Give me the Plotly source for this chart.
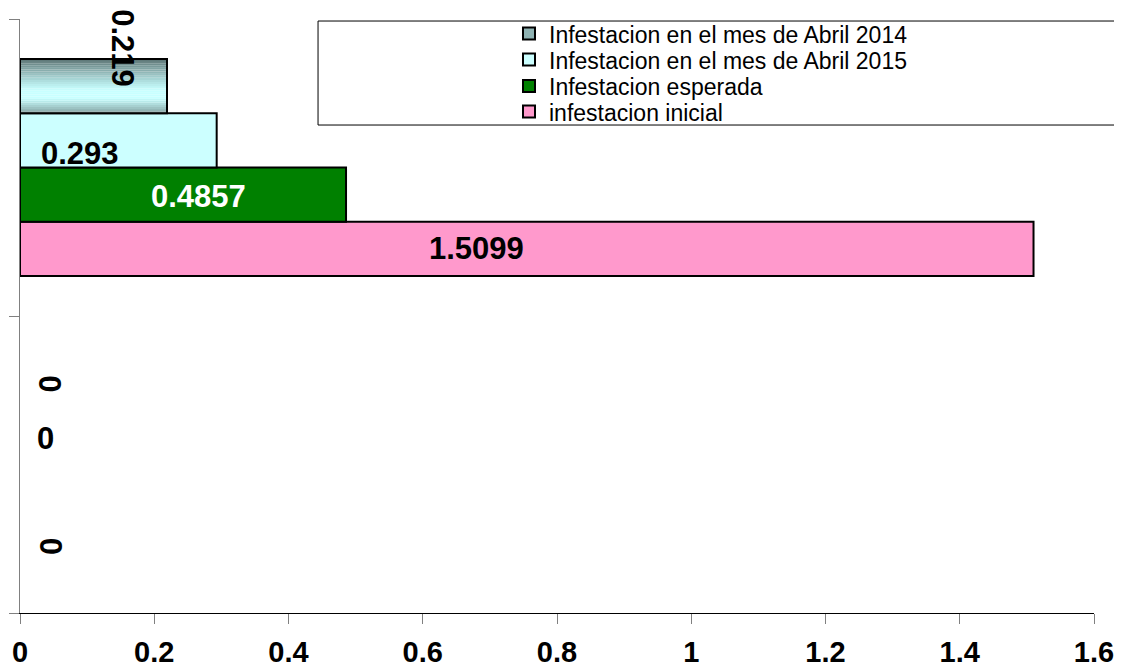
import plotly.graph_objects as go

# ---------------- data ----------------
categories = ["Grupo 1", "Grupo 2"]          # bottom, top
series_names = [
    "infestacion inicial",
    "Infestacion esperada",
    "Infestacion en el mes de Abril 2015",
    "Infestacion en el mes de Abril 2014",
]
inicial = [0, 1.5099]
esperada = [0, 0.4857]
abril_2015 = [0, 0.293]
abril_2014 = [0, 0.219]
x_ticks = [0, 0.2, 0.4, 0.6, 0.8, 1, 1.2, 1.4, 1.6]

series_values = [inicial, esperada, abril_2015, abril_2014]

# ---------------- styles ----------------
FONT = "Liberation Sans, Arial, sans-serif"
colors = ["#FF99CC", "#008000", "#CCFFFF", "#8fb3b3"]
GROUP = 0.73                      # fraction of category used by bars
BW = GROUP / 4                    # single bar width (category units)
offsets = [-GROUP / 2 + i * BW for i in range(4)]

# legend rows (paper y of each entry, by series)
legend_rows = [0.8440, 0.8871, 0.9316, 0.9754]
LEGEND_X = 0.4553

# per-label style: (angle, xshift px from x=0, yshift px, color) for [cat0, cat1]
label_style = [
    [(90, 30, 0, "black"), (0, 456, 0, "black")],
    [(0, 25, 0, "white"), (0, 178, -2, "white")],
    [(0, 25, -1, "black"), (0, 60, -13, "black")],
    [(90, 30, 0, "black"), (90, 103, 38, "black")],
]

fig = go.Figure()


def lw(vals):
    return [2 if v > 0 else 0 for v in vals]


# first three series: solid bars
for i in range(3):
    fig.add_trace(go.Bar(
        y=categories, x=series_values[i], orientation="h",
        name=series_names[i], showlegend=False,
        marker=dict(color=colors[i], line=dict(color="black", width=lw(series_values[i]))),
        width=BW, offset=offsets[i],
    ))


# 2014 series: vertical gradient built from strips
def lerp(c1, c2, t):
    a = [int(c1[k:k + 2], 16) for k in (1, 3, 5)]
    b = [int(c2[k:k + 2], 16) for k in (1, 3, 5)]
    return "#%02x%02x%02x" % tuple(round(a[j] + (b[j] - a[j]) * t) for j in range(3))


dark_bot, light, dark_top = "#7d9696", "#c8ffff", "#5c7474"
NSTRIP = 26
peak_lo, peak_hi = 0.28, 0.42
for s in range(NSTRIP):
    t = (s + 0.5) / NSTRIP
    if t < peak_lo:
        c = lerp(dark_bot, light, (t / peak_lo) ** 0.8)
    elif t <= peak_hi:
        c = light
    else:
        c = lerp(light, dark_top, ((t - peak_hi) / (1 - peak_hi)) ** 1.2)
    fig.add_trace(go.Bar(
        y=categories, x=abril_2014, orientation="h",
        name=series_names[3], showlegend=False,
        marker=dict(color=c, line=dict(width=0)),
        width=BW / NSTRIP * 1.04, offset=offsets[3] + s * BW / NSTRIP,
        hoverinfo="skip",
    ))
# outline for 2014 bar
fig.add_trace(go.Bar(
    y=categories, x=abril_2014, orientation="h", showlegend=False,
    marker=dict(color="rgba(0,0,0,0)", line=dict(color="black", width=lw(abril_2014))),
    width=BW, offset=offsets[3], hoverinfo="skip",
))

# legend entries (one legend per row so row spacing matches)
legend_layout = {}
for i in range(4):
    key = "legend" if i == 0 else "legend%d" % (i + 1)
    fig.add_trace(go.Bar(
        y=[None], x=[None], orientation="h", name=series_names[i],
        marker=dict(color=colors[i], line=dict(color="black", width=2)),
        showlegend=True, legend=key, hoverinfo="skip",
    ))
    legend_layout[key] = dict(
        x=LEGEND_X, y=legend_rows[i], xanchor="left", yanchor="middle",
        bgcolor="rgba(0,0,0,0)", borderwidth=0,
        font=dict(family=FONT, size=23, color="black"),
    )

# data labels
annotations = []
for i, vals in enumerate(series_values):
    for ci, v in enumerate(vals):
        ang, xs, ys, col = label_style[i][ci]
        annotations.append(dict(
            x=0, y=ci + offsets[i] + BW / 2, xref="x", yref="y",
            text="<b>%s</b>" % f"{v:g}", showarrow=False,
            xanchor="center", yanchor="middle", xshift=xs, yshift=ys,
            textangle=ang, font=dict(family=FONT, size=31, color=col),
        ))

# page body has an 8px margin: plot area sits at page x 20..1094, y 19..613
fig.update_layout(
    width=1122, height=666,
    margin=dict(l=12, r=36, t=11, b=61, autoexpand=False),
    paper_bgcolor="white", plot_bgcolor="white",
    barmode="overlay",
    showlegend=True,
    annotations=annotations,
    shapes=[dict(type="rect", xref="paper", yref="paper",
                 x0=0.2775, x1=1.05, y0=0.8215, y1=0.9966,
                 line=dict(color="black", width=1), layer="above")],
    font=dict(family=FONT, color="black"),
    **legend_layout,
)
fig.update_xaxes(
    range=[0, 1.6], tickvals=x_ticks, ticktext=[f"{t:g}" for t in x_ticks],
    ticks="outside", ticklen=10, tickcolor="#808080", tickwidth=1,
    showline=True, linecolor="black", linewidth=1,
    showgrid=False, zeroline=False, automargin=False, ticklabelstandoff=3,
    tickfont=dict(family=FONT, size=29, color="black", weight="bold"),
)
fig.update_yaxes(
    type="category", categoryorder="array", categoryarray=categories,
    range=[-0.5, 1.5], tickson="boundaries",
    ticks="outside", ticklen=10, tickcolor="#808080", tickwidth=1,
    showline=True, linecolor="#808080", linewidth=1,
    showticklabels=False, showgrid=False, zeroline=False, automargin=False,
)

fig.write_html("out.html")
